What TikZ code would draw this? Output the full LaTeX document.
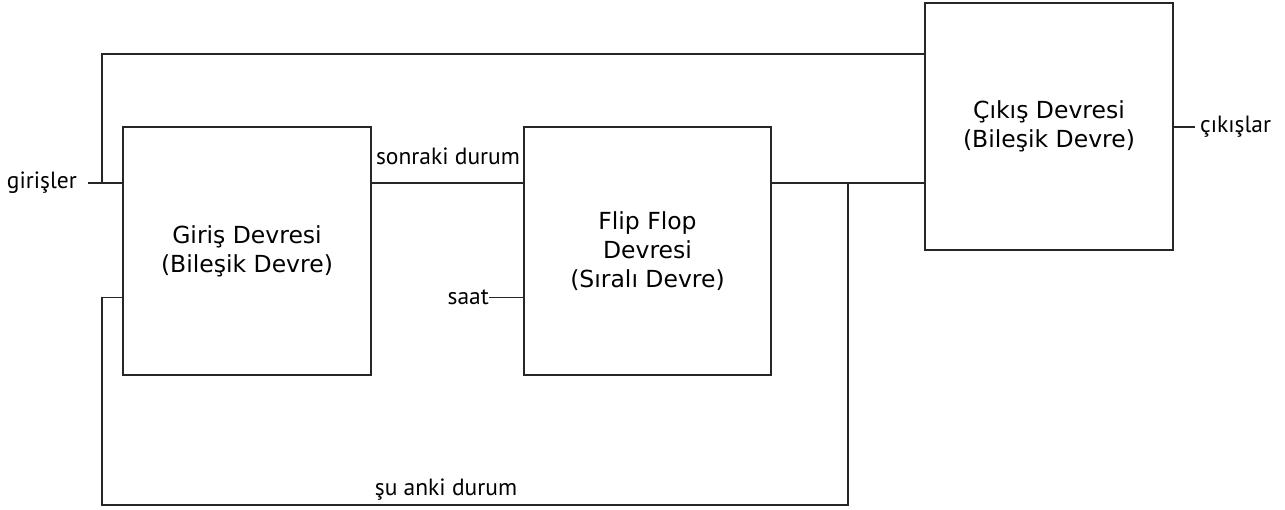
\documentclass[tikz,border=0pt]{standalone}
\usepackage{fontspec}
\setmainfont{DejaVu Sans}
\newfontfamily\labelfont{PT Sans}
\begin{document}
\begin{tikzpicture}[x=1pt,y=-1pt,
  wire/.style={draw=black!85,line width=1.3pt},
  block/.style={draw=black!85,line width=1.3pt,rectangle,inner sep=0pt,
    align=center,font=\fontsize{23.5}{29}\selectfont},
  sig/.style={inner sep=0pt,font=\labelfont\fontsize{23.5}{26}\selectfont}]
\useasboundingbox (0,0) rectangle (1285,510);

% blocks
\node[block,minimum width=248pt,minimum height=248pt] (giris) at (247,251)
  {Giriş Devresi\\(Bileşik Devre)};
\node[block,minimum width=247pt,minimum height=248pt] (ff) at (647.5,251)
  {Flip Flop\\Devresi\\(Sıralı Devre)};
\node[block,minimum width=248pt,minimum height=247pt] (cikis) at (1049,126.5)
  {Çıkış Devresi\\(Bileşik Devre)};

% signal labels
\node[sig,anchor=east] (in) at (77,183) {girişler};
\node[sig,anchor=west] (out) at (1200,127) {çıkışlar};
\node[sig,anchor=east] (clk) at (489,297.5) {saat};
\node[sig] (next) at (448,156) {sonraki durum};
\node[sig] (now) at (446,490) {şu anki durum};

% helper points
\coordinate (inend) at (88,183);
\coordinate (split) at (102,183);
\coordinate (top) at (102,54);
\coordinate (tap) at (848,183);
\coordinate (bl) at (102,505);
\coordinate (br) at (848,505);
\coordinate (fb) at (102,297.5);
\coordinate (outend) at (1195,127);

% wiring
\draw[wire] (inend) -- (giris.west |- inend);
\draw[wire] (split) -- (top) -- (cikis.west |- top);
\draw[wire] (giris.east |- split) -- (ff.west |- split);
\draw[wire] (clk.east) -- (ff.west |- clk.east);
\draw[wire] (ff.east |- tap) -- (cikis.west |- tap);
\draw[wire] (tap) -- (br) -- (bl) -- (fb) -- (giris.west |- fb);
\draw[wire] (cikis.east |- outend) -- (outend);
\end{tikzpicture}
\end{document}
